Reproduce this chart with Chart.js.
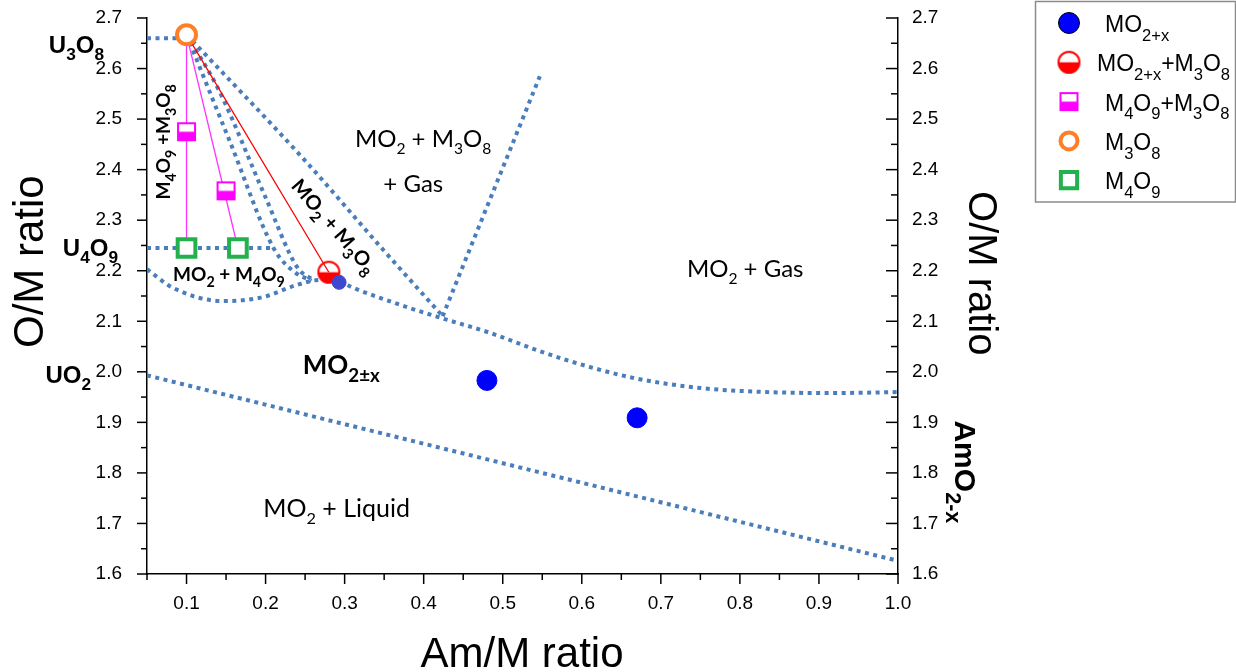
<!DOCTYPE html>
<html>
<head>
<meta charset="utf-8">
<script src="https://cdn.jsdelivr.net/npm/chart.js@4"></script>
<style>
  html, body { margin: 0; padding: 0; background: #fff; }
  #wrap { width: 1236px; height: 672px; position: relative; }
</style>
</head>
<body>
<div id="wrap"><canvas id="phase"></canvas></div>
<script>
// values
const xTicks = [0.1, 0.2, 0.3, 0.4, 0.5, 0.6, 0.7, 0.8, 0.9, 1.0];
const xMinor = [0.05, 0.15, 0.25, 0.35, 0.45, 0.55, 0.65, 0.75, 0.85, 0.95];
const yTicks = [1.6, 1.7, 1.8, 1.9, 2.0, 2.1, 2.2, 2.3, 2.4, 2.5, 2.6, 2.7];
const yMinor = [1.65, 1.75, 1.85, 1.95, 2.05, 2.15, 2.25, 2.35, 2.45, 2.55, 2.65];

// measured points
const mo2x      = [[0.293, 2.177], [0.48, 1.983], [0.67, 1.909]];
const mo2xM3o8  = [[0.28, 2.197]];
const m4o9M3o8  = [[0.1, 2.475], [0.15, 2.358]];
const m3o8      = [[0.1, 2.667]];
const m4o9      = [[0.1, 2.245], [0.165, 2.245]];

// tie lines
const tieM4o9a  = [[0.1, 2.667], [0.1, 2.245]];
const tieM4o9b  = [[0.1, 2.667], [0.165, 2.245]];
const tieMo2    = [[0.1, 2.667], [0.28, 2.197]];

// phase boundaries (dotted)
const u3o8Line   = [[0.05, 2.66], [0.1, 2.66]];
const u4o9Line   = [[0.05, 2.245], [0.21, 2.245]];
const fanA       = [[0.1, 2.667], [0.155, 2.455], [0.21, 2.245], [0.236, 2.198], [0.258, 2.18]];
const fanB       = [[0.1, 2.667], [0.14, 2.56], [0.2, 2.345], [0.24, 2.207], [0.262, 2.18]];
const fanC       = [[0.1, 2.667], [0.247, 2.423], [0.349, 2.241], [0.424, 2.11]];
const gasLine    = [[0.424, 2.11], [0.547, 2.585]];
const dipCurve   = [[0.05, 2.203], [0.083, 2.166], [0.146, 2.14], [0.197, 2.148], [0.24, 2.172], [0.27, 2.182]];
const mo2xCurve  = [[0.294, 2.178], [0.311, 2.166], [0.379, 2.128], [0.421, 2.107], [0.484, 2.077], [0.543, 2.043],
                    [0.581, 2.023], [0.665, 1.988], [0.75, 1.968], [0.834, 1.96], [0.918, 1.958], [1.0, 1.96]];
const liquidLine = [[0.05, 1.993], [1.0, 1.626]];

const pts = a => a.map(p => ({x: p[0], y: p[1]}));

const DOT = '#4a7ebb';
const SANS = "'Liberation Sans', Arial, sans-serif";
const NARROW = "'Liberation Sans Narrow', 'Liberation Sans', Arial, sans-serif";
const CAL = "Lato, 'Open Sans', sans-serif";

// half filled markers
function halfCircle(color, r, lw) {
  const c = document.createElement('canvas');
  const s = Math.ceil(2 * r + lw + 2);
  c.width = c.height = s;
  const g = c.getContext('2d'), m = s / 2;
  g.fillStyle = color;
  g.beginPath(); g.arc(m, m, r, 0, Math.PI); g.closePath(); g.fill();
  g.strokeStyle = color; g.lineWidth = lw;
  g.beginPath(); g.arc(m, m, r, 0, 2 * Math.PI); g.stroke();
  return c;
}
function halfSquare(color, side, lw) {
  const c = document.createElement('canvas');
  const s = Math.ceil(side + lw + 2);
  c.width = c.height = s;
  const g = c.getContext('2d'), o = (s - side) / 2;
  g.fillStyle = '#fff'; g.fillRect(o, o, side, side);
  g.fillStyle = color; g.fillRect(o, o + side / 2, side, side / 2);
  g.strokeStyle = color; g.lineWidth = lw; g.strokeRect(o, o, side, side);
  return c;
}
const redHalf = halfCircle('#ff0000', 10.5, 2);
const magHalf = halfSquare('#ff00ff', 17, 2);

function dotted(data, smooth) {
  return {
    data: pts(data), showLine: true, borderColor: DOT, borderWidth: 4,
    borderDash: [4, 4.5], borderCapStyle: 'butt', pointRadius: 0,
    cubicInterpolationMode: smooth ? 'monotone' : 'default', tension: smooth ? 0.4 : 0, order: 10
  };
}
function tie(data, color) {
  return { data: pts(data), showLine: true, borderColor: color, borderWidth: 1.3, pointRadius: 0, order: 5 };
}

// rich text: "MO_{2}" -> subscript
function parseRich(s) {
  const out = [], re = /_\{([^}]*)\}/g;
  let last = 0, m;
  while ((m = re.exec(s))) {
    if (m.index > last) out.push([s.slice(last, m.index), false]);
    out.push([m[1], true]);
    last = re.lastIndex;
  }
  if (last < s.length) out.push([s.slice(last), false]);
  return out;
}
function drawRich(ctx, s, x, y, o) {
  const parts = parseRich(s), size = o.size, sub = size * (o.subScale || 0.65);
  const w8 = o.weight || 'normal', fam = o.family || SANS;
  ctx.save();
  ctx.translate(x, y);
  if (o.angle) ctx.rotate(o.angle * Math.PI / 180);
  let w = 0;
  parts.forEach(p => { ctx.font = `${w8} ${p[1] ? sub : size}px ${fam}`; w += ctx.measureText(p[0]).width; });
  let cx = o.align === 'center' ? -w / 2 : o.align === 'right' ? -w : 0;
  const dy = o.middle ? size * 0.36 : 0;
  ctx.fillStyle = o.color || '#000';
  ctx.textAlign = 'left'; ctx.textBaseline = 'alphabetic';
  parts.forEach(p => {
    ctx.font = `${w8} ${p[1] ? sub : size}px ${fam}`;
    ctx.fillText(p[0], cx, dy + (p[1] ? size * (o.subDrop || 0.3) : 0));
    cx += ctx.measureText(p[0]).width;
  });
  ctx.restore();
}

// text inside the plot (data coordinates)
const notes = [
  {t: 'MO_{2} + M_{3}O_{8}', x: 0.313, y: 2.445, size: 24, family: CAL},
  {t: '+ Gas', x: 0.349, y: 2.356, size: 24, family: CAL},
  {t: 'MO_{2} + Gas', x: 0.733, y: 2.188, size: 24, family: CAL},
  {t: 'MO_{2±x}', x: 0.247, y: 1.996, size: 26, family: CAL, weight: 'bold', subScale: 0.72},
  {t: 'MO_{2} + Liquid', x: 0.197, y: 1.713, size: 25, family: CAL},
  {t: 'MO_{2} + M_{4}O_{9}', x: 0.083, y: 2.18, size: 19, family: CAL, weight: 'bold', subScale: 0.75},
  {t: 'M_{4}O_{9} +M_{3}O_{8}', x: 0.071, y: 2.455, size: 19, family: CAL, weight: 'bold', angle: -90, align: 'center', middle: true, subScale: 0.75},
  {t: 'MO_{2} + M_{3}O_{8}', x: 0.287, y: 2.288, size: 20, family: CAL, weight: 'bold', angle: 49, align: 'center', middle: true, subScale: 0.75}
];
// compound labels on the left margin (pixel x of right edge, data y of baseline)
const sideNotes = [
  {t: 'U_{3}O_{8}', px: 104, y: 2.631},
  {t: 'U_{4}O_{9}', px: 118, y: 2.229},
  {t: 'UO_{2}', px: 91, y: 1.978}
];

const decorations = {
  id: 'decorations',
  afterDraw(chart) {
    const {ctx, chartArea: a, scales: {x, y}} = chart;
    ctx.save();
    ctx.strokeStyle = '#000'; ctx.lineWidth = 1.5;
    const seg = (x1, y1, x2, y2) => { ctx.beginPath(); ctx.moveTo(x1, y1); ctx.lineTo(x2, y2); ctx.stroke(); };
    xTicks.forEach(v => { const p = x.getPixelForValue(v); seg(p, a.bottom, p, a.bottom + 10); });
    xMinor.forEach(v => { const p = x.getPixelForValue(v); seg(p, a.bottom, p, a.bottom + 6); });
    yTicks.forEach(v => { const p = y.getPixelForValue(v); seg(a.left - 10, p, a.left, p); seg(a.right - 12, p, a.right, p); });
    yMinor.forEach(v => { const p = y.getPixelForValue(v); seg(a.left - 6, p, a.left, p); seg(a.right - 7, p, a.right, p); });
    ctx.restore();

    notes.forEach(n => drawRich(ctx, n.t, x.getPixelForValue(n.x), y.getPixelForValue(n.y), n));
    sideNotes.forEach(n => drawRich(ctx, n.t, n.px, y.getPixelForValue(n.y), {size: 24, weight: 'bold', align: 'right', subScale: 0.72}));
    drawRich(ctx, 'AmO_{2-x}', a.right + 68, y.getPixelForValue(1.802), {size: 30, weight: 'bold', angle: 90, align: 'center', middle: true, subScale: 0.72});

    // axis titles
    drawRich(ctx, 'O/M ratio', 28, y.getPixelForValue(2.218), {size: 42, angle: -90, align: 'center', middle: true});
    drawRich(ctx, 'O/M ratio', a.right + 85, y.getPixelForValue(2.195), {size: 40, angle: 90, align: 'center', middle: true});
    drawRich(ctx, 'Am/M ratio', 522, 667, {size: 42, align: 'center'});

    // legend
    ctx.save();
    ctx.strokeStyle = '#8c8c8c'; ctx.lineWidth = 1.5;
    ctx.strokeRect(1035.5, 1.5, 200, 200.5);
    ctx.restore();
    let row = 0;
    chart.data.datasets.forEach(ds => {
      if (!ds.legendText) return;
      const cy = 23 + row * 39.3;
      ctx.save();
      ctx.fillStyle = ds.legendFill || ds.pointBackgroundColor;
      ctx.strokeStyle = ds.pointBorderColor;
      ctx.lineWidth = ds.pointBorderWidth || 0;
      Chart.helpers.drawPoint(ctx, {pointStyle: ds.pointStyle, radius: ds.legendRadius, rotation: 0, borderWidth: ds.pointBorderWidth || 0}, 1069, cy);
      ctx.restore();
      drawRich(ctx, ds.legendText, ds.legendX || 1105, cy + 9, {size: 23, subScale: 0.72, subDrop: 0.38});
      row++;
    });
  }
};

const datasets = [
  {
    data: pts(mo2x), pointStyle: 'circle', pointRadius: [7, 10, 10],
    pointBackgroundColor: ['#3f48cc', '#0000ff', '#0000ff'], pointBorderColor: ['#3f48cc', '#0000ff', '#0000ff'],
    pointBorderWidth: 1, order: 1,
    legendText: 'MO_{2+x}', legendFill: '#0000ff', legendRadius: 10.5
  },
  {
    data: pts(mo2xM3o8), pointStyle: redHalf, order: 1,
    legendText: 'MO_{2+x}+M_{3}O_{8}', legendRadius: 10, legendX: 1097
  },
  {
    data: pts(m4o9M3o8), pointStyle: magHalf, order: 1,
    legendText: 'M_{4}O_{9}+M_{3}O_{8}', legendRadius: 10
  },
  {
    data: pts(m3o8), pointStyle: 'circle', pointRadius: 9.5, pointBackgroundColor: '#fff',
    pointBorderColor: '#ff7f27', pointBorderWidth: 4, order: 1,
    legendText: 'M_{3}O_{8}', legendRadius: 8.5
  },
  {
    data: pts(m4o9), pointStyle: 'rect', pointRadius: 12.5, pointBackgroundColor: '#fff',
    pointBorderColor: '#22b14c', pointBorderWidth: 4, order: 1,
    legendText: 'M_{4}O_{9}', legendRadius: 11.5
  },
  tie(tieM4o9a, '#ff33ff'),
  tie(tieM4o9b, '#ff33ff'),
  tie(tieMo2, '#ff0000'),
  dotted(u3o8Line, false),
  dotted(u4o9Line, false),
  dotted(fanA, true),
  dotted(fanB, true),
  dotted(fanC, true),
  dotted(gasLine, false),
  dotted(dipCurve.concat(mo2xCurve), true),
  dotted(liquidLine, false)
];

const axisBorder = {display: true, color: '#000', width: 1.5};
const noGrid = {display: true, drawOnChartArea: false, drawTicks: false};
// fixed box sizes so the plot area lands where it does in the figure
const fixY = w => s => { s.width = w; s.paddingTop = 0; s.paddingBottom = 0; };

new Chart(document.getElementById('phase'), {
  type: 'scatter',
  data: {datasets},
  options: {
    responsive: true,
    maintainAspectRatio: false,
    animation: false,
    layout: {padding: {top: 18, left: 0, right: 0, bottom: 0}},
    plugins: {legend: {display: false}, tooltip: {enabled: false}},
    scales: {
      x: {
        type: 'linear', position: 'bottom', min: 0.05, max: 1.0,
        afterBuildTicks: s => { s.ticks = xTicks.map(v => ({value: v})); },
        afterFit: s => { s.height = 98; s.paddingLeft = 0; s.paddingRight = 0; },
        ticks: {callback: v => v.toFixed(1), color: '#000', font: {family: NARROW, size: 19}, padding: 18, maxRotation: 0},
        grid: noGrid, border: axisBorder
      },
      y: {
        type: 'linear', position: 'left', min: 1.6, max: 2.7,
        afterBuildTicks: s => { s.ticks = yTicks.map(v => ({value: v})); },
        afterFit: fixY(147),
        ticks: {callback: v => v.toFixed(1), color: '#000', font: {family: SANS, size: 19}, padding: 25},
        grid: noGrid, border: axisBorder
      },
      y2: {
        type: 'linear', position: 'right', min: 1.6, max: 2.7,
        afterBuildTicks: s => { s.ticks = yTicks.map(v => ({value: v})); },
        afterFit: fixY(338),
        ticks: {callback: v => v.toFixed(1), color: '#000', font: {family: SANS, size: 19}, padding: 14},
        grid: noGrid, border: axisBorder
      }
    }
  },
  plugins: [decorations]
});
</script>
</body>
</html>
